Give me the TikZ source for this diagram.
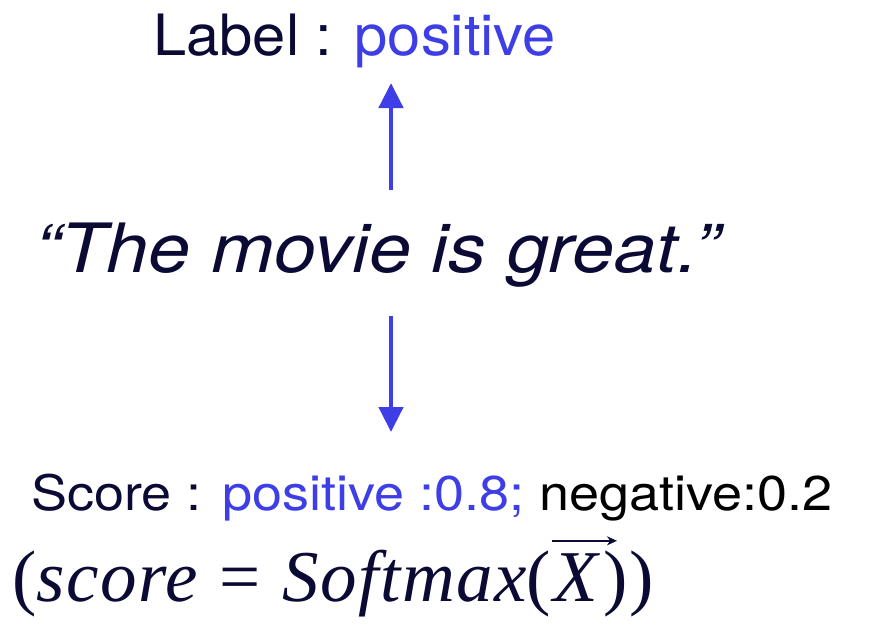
\documentclass[tikz,border=0pt]{standalone}
\usepackage{fontspec}
\setmainfont{TeX Gyre Heros}
\newfontfamily\labelfont[FakeStretch=1.047]{TeX Gyre Heros}
\newfontfamily\sentfont[FakeStretch=1.11]{TeX Gyre Heros}
\newfontfamily\scorefont[FakeStretch=1.107]{TeX Gyre Heros}
\newfontfamily\timesfont{Liberation Serif}
\newfontfamily\varfont[LetterSpace=2]{Liberation Serif Italic}
\usetikzlibrary{arrows.meta}

\definecolor{inkdark}{RGB}{10,10,52}
\definecolor{inkblue}{RGB}{62,62,230}

\tikzset{
  flow/.style={draw=inkblue,line width=2.3pt,-{Triangle[length=12.5pt,width=12pt]}},
  txt/.style={inner sep=0pt,anchor=base west,text=inkdark},
  vecarrow/.style={draw=inkdark,line width=0.8pt,-{Stealth[length=5pt,width=4.5pt]}},
}

\begin{document}
\begin{tikzpicture}[x=0.5pt,y=-0.5pt]
\useasboundingbox (0,0) rectangle (873,634);

% the texts
\node[txt,font=\fontsize{28.5}{32}\labelfont] (label) at (153,55)
  {Label : \textcolor{inkblue}{positive}};
\node[txt,font=\fontsize{34}{38}\sentfont\itshape] (sent) at (35,272)
  {“The movie is great.”};
\node[txt,font=\fontsize{24.4}{28}\scorefont] (score) at (31,510)
  {Score : \textcolor{inkblue}{positive :0.8;} \textcolor{black}{negative:0.2}};

% the formula, with the vector arrow drawn over X
\node[txt,font=\fontsize{36.5}{40}\timesfont] (formA) at (12,601)
  {({\varfont score}\hspace{0.3em}=\hspace{0.3em}{\varfont Softmax}(};
\node[txt,font=\fontsize{36.5}{40}\timesfont\itshape] (xvec) at ([xshift=1pt]formA.base east) {X};
\node[txt,font=\fontsize{36.5}{40}\timesfont] (formB) at ([xshift=2pt]xvec.base east) {)\kern1pt)};
\coordinate (vecA) at ([xshift=-1pt,yshift=6pt]xvec.north west);
\coordinate (vecB) at ([xshift=9pt,yshift=6pt]xvec.north east);
\draw[vecarrow] (vecA) -- (vecB);

% the arrows
\coordinate (upA) at (391,190);
\coordinate (upB) at (391,83);
\coordinate (dnA) at (391,316);
\coordinate (dnB) at (391,432);
\draw[flow] (upA) -- (upB);
\draw[flow] (dnA) -- (dnB);

\end{tikzpicture}
\end{document}
